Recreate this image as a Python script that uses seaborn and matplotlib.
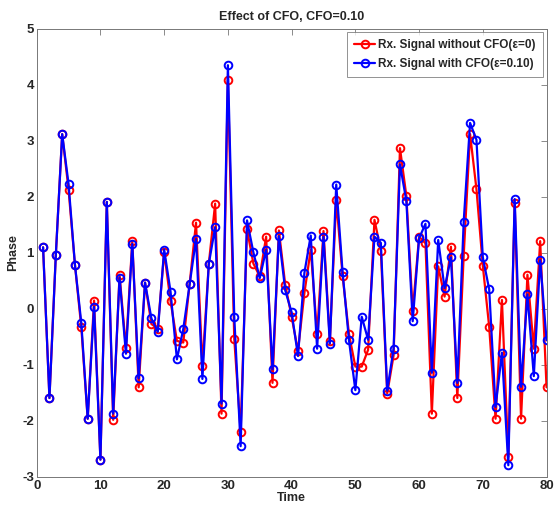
import numpy as np
import pandas as pd
import seaborn as sns
import matplotlib.pyplot as plt

# phase values, time = 1..80
time = list(range(1, 81))

rx_no_cfo = [
    1.10, -1.59, 0.96, 3.12, 2.13, 0.79, -0.33, -1.96, 0.15, -2.69,
    1.91, -1.98, 0.61, -0.70, 1.21, -1.40, 0.47, -0.27, -0.35, 1.01,
    0.14, -0.57, -0.60, 0.45, 1.54, -1.02, 0.80, 1.88, -1.87, 4.09,
    -0.54, -2.19, 1.42, 0.81, 0.58, 1.29, -1.32, 1.40, 0.43, -0.14,
    -0.75, 0.28, 1.06, -0.45, 1.39, -0.57, 1.94, 0.59, -0.45, -1.03,
    -1.03, -0.73, 1.59, 1.04, -1.51, -0.83, 2.87, 2.02, -0.04, 1.29,
    1.17, -1.87, 0.76, 0.22, 1.11, -1.59, 0.95, 3.12, 2.14, 0.77,
    -0.32, -1.96, 0.16, -2.64, 1.89, -1.96, 0.61, -0.71, 1.21, -1.40,
]

rx_cfo = [
    1.10, -1.59, 0.96, 3.12, 2.23, 0.79, -0.25, -1.96, 0.04, -2.69,
    1.91, -1.87, 0.56, -0.80, 1.16, -1.24, 0.47, -0.17, -0.41, 1.06,
    0.31, -0.90, -0.36, 0.44, 1.25, -1.25, 0.80, 1.46, -1.69, 4.35,
    -0.14, -2.45, 1.58, 1.01, 0.55, 1.06, -1.08, 1.30, 0.33, -0.06,
    -0.84, 0.64, 1.31, -0.71, 1.29, -0.62, 2.22, 0.65, -0.56, -1.45,
    -0.14, -0.55, 1.29, 1.18, -1.46, -0.71, 2.58, 1.93, -0.22, 1.26,
    1.52, -1.14, 1.23, 0.37, 0.92, -1.32, 1.56, 3.32, 3.02, 0.92,
    0.35, -1.75, -0.78, -2.79, 1.96, -1.39, 0.26, -1.20, 0.87, -0.56,
]

labels = ["Rx. Signal without CFO(ε=0)", "Rx. Signal with CFO(ε=0.10)"]
colors = ["#ff0000", "#0000ff"]

df = pd.DataFrame({
    "Time": time * 2,
    "Phase": rx_no_cfo + rx_cfo,
    "Signal": [labels[0]] * len(time) + [labels[1]] * len(time),
})

sns.set_style("white")
plt.rcParams["font.family"] = ["Liberation Sans", "DejaVu Sans"]
plt.rcParams["font.weight"] = "bold"
plt.rcParams["axes.unicode_minus"] = False
plt.rcParams["xtick.direction"] = "in"
plt.rcParams["ytick.direction"] = "in"

fig, ax = plt.subplots(figsize=(5.56, 5.14), dpi=100)
fig.subplots_adjust(left=0.066, right=0.983, top=0.944, bottom=0.072)

sns.lineplot(
    data=df, x="Time", y="Phase", hue="Signal",
    palette=dict(zip(labels, colors)),
    marker="o", markersize=5.5, markerfacecolor="none", markeredgewidth=1.4,
    linewidth=1.6, legend=False, ax=ax,
)
for line, c in zip(ax.lines, colors):
    line.set_markeredgecolor(c)

ax.set_xlim(0, 80)
ax.set_ylim(-3, 5)
ax.set_xticks(range(0, 81, 10))
ax.set_yticks(range(-3, 6))
ax.tick_params(labelsize=9.5, top=True, right=True, length=4, width=0.6,
               pad=2, color="#777777")
for spine in ax.spines.values():
    spine.set_linewidth(0.7)
    spine.set_color("#777777")

ax.set_title("Effect of CFO, CFO=0.10", fontsize=9, fontweight="bold", pad=6)
ax.set_xlabel("Time", fontsize=9, fontweight="bold", labelpad=0)
ax.set_ylabel("Phase", fontsize=9, fontweight="bold", labelpad=2)

leg = ax.legend(
    handles=ax.lines[:2], labels=labels, loc="upper right", fontsize=8.5,
    frameon=True, fancybox=False, edgecolor="#777777", borderaxespad=0.3,
    handlelength=1.8, handletextpad=0.25, borderpad=0.6, labelspacing=0.55,
    numpoints=1,
)
leg.get_frame().set_linewidth(0.7)

fig.savefig("out.png", dpi=100)
